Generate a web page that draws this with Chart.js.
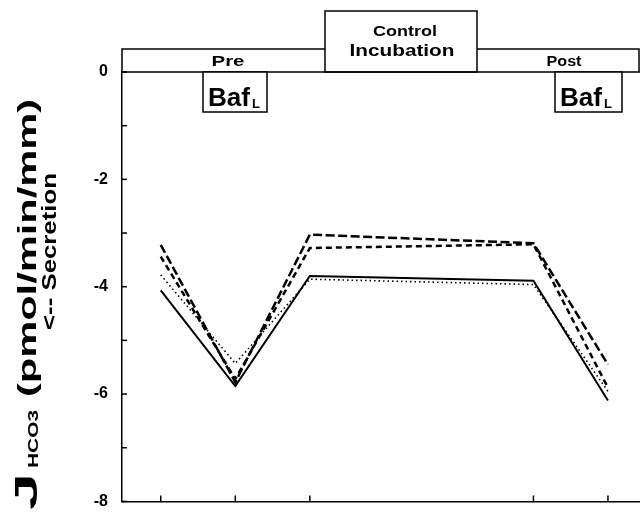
<!DOCTYPE html>
<html>
<head>
<meta charset="utf-8">
<script src="https://cdn.jsdelivr.net/npm/chart.js@4"></script>
<style>
  body { margin: 0; background: #fff; }
  canvas { display: block; }
</style>
</head>
<body>
<canvas id="myChart" width="640" height="525"></canvas>
<script>
// time points (x) and the four traces
var xValues = [1, 2, 3, 6, 7];
var xTicks = [1, 2, 3, 6, 7];
var solidSeries = [-4.07, -5.85, -3.80, -3.89, -6.12];
var dottedSeries = [-3.78, -5.43, -3.86, -3.96, -5.95];
var dashedLong = [-3.22, -5.78, -3.03, -3.19, -5.45];
var dashedShort = [-3.44, -5.72, -3.28, -3.21, -5.88];
var yTickLabels = [0, -2, -4, -6, -8];

var FONT = '"Liberation Sans", Arial, sans-serif';

function toPoints(values) {
    return values.map(function (v, i) { return { x: xValues[i], y: v }; });
}

function stretchText(ctx, text, x, y, size, width, align) {
    ctx.font = 'bold ' + size + 'px ' + FONT;
    var w = ctx.measureText(text).width;
    var sx = width ? width / w : 1;
    ctx.save();
    ctx.translate(x, y);
    ctx.scale(sx, 1);
    ctx.textAlign = align || 'left';
    ctx.textBaseline = 'alphabetic';
    ctx.fillText(text, 0, 0);
    ctx.restore();
}

var decorations = {
    id: 'decorations',
    afterDraw: function (chart) {
        var ctx = chart.ctx;
        var xs = chart.scales.x, ys = chart.scales.y;
        var area = chart.chartArea;
        ctx.save();
        ctx.strokeStyle = '#000';
        ctx.fillStyle = '#000';
        ctx.lineWidth = 1.5;

        // inward ticks on y axis
        for (var v = -8; v <= 0; v++) {
            var py = ys.getPixelForValue(v);
            ctx.beginPath();
            ctx.moveTo(area.left, py);
            ctx.lineTo(area.left + 5, py);
            ctx.stroke();
        }
        // inward ticks on x axis
        xTicks.forEach(function (t) {
            var px = xs.getPixelForValue(t);
            ctx.beginPath();
            ctx.moveTo(px, area.bottom);
            ctx.lineTo(px, area.bottom - 6);
            ctx.stroke();
        });

        // top banner
        var top = area.top;
        ctx.beginPath();
        ctx.moveTo(area.left, top);
        ctx.lineTo(area.left, 49);
        ctx.lineTo(325, 49);
        ctx.moveTo(477, 49);
        ctx.lineTo(area.right - 1, 49);
        ctx.lineTo(area.right - 1, top);
        ctx.moveTo(area.left, top);
        ctx.lineTo(area.right, top);
        ctx.stroke();
        ctx.strokeRect(325, 11, 152, top - 11);

        stretchText(ctx, 'Control', 405, 36, 15, 64, 'center');
        stretchText(ctx, 'Incubation', 402, 56, 17, 105, 'center');
        stretchText(ctx, 'Pre', 228, 66, 15, 33, 'center');
        stretchText(ctx, 'Post', 564, 66, 14, 35, 'center');

        // Baf boxes
        [[203, 64], [555, 67]].forEach(function (b) {
            ctx.fillStyle = '#fff';
            ctx.fillRect(b[0], top, b[1], 40);
            ctx.strokeRect(b[0], top, b[1], 40);
            ctx.fillStyle = '#000';
            stretchText(ctx, 'Baf', b[0] + 5, top + 34, 25, 42);
            stretchText(ctx, 'L', b[0] + 49, top + 36, 13, 8);
        });

        // y axis title, rotated
        ctx.save();
        ctx.translate(37, 510);
        ctx.rotate(-Math.PI / 2);
        stretchText(ctx, 'J', 0, 0, 31, 37);
        stretchText(ctx, 'HCO3', 42, 1, 14, 58);
        stretchText(ctx, '(pmol/min/mm)', 113, -1, 25, 298);
        ctx.restore();

        ctx.save();
        ctx.translate(56, 330);
        ctx.rotate(-Math.PI / 2);
        stretchText(ctx, '<-- Secretion', 0, 0, 20, 157);
        ctx.restore();

        ctx.restore();
    }
};

var ctx = document.getElementById('myChart').getContext('2d');
var myChart = new Chart(ctx, {
    type: 'line',
    data: {
        datasets: [{
            label: 'solid',
            data: toPoints(solidSeries),
            borderColor: '#000',
            borderWidth: 2
        }, {
            label: 'dotted',
            data: toPoints(dottedSeries),
            borderColor: '#000',
            borderWidth: 1.6,
            borderDash: [1.5, 3]
        }, {
            label: 'long dash',
            data: toPoints(dashedLong),
            borderColor: '#000',
            borderWidth: 2.5,
            borderDash: [9, 3.5]
        }, {
            label: 'short dash',
            data: toPoints(dashedShort),
            borderColor: '#000',
            borderWidth: 2.5,
            borderDash: [6, 4]
        }]
    },
    options: {
        responsive: false,
        animation: false,
        layout: { padding: { top: 72, left: 0, right: 0, bottom: 0 } },
        elements: {
            point: { radius: 0 },
            line: { tension: 0, fill: false }
        },
        plugins: {
            legend: { display: false },
            tooltip: { enabled: false }
        },
        scales: {
            x: {
                type: 'linear',
                min: 0.48,
                max: 7.43,
                afterBuildTicks: function (scale) {
                    scale.ticks = xTicks.map(function (t) { return { value: t }; });
                },
                afterFit: function (scale) { scale.height = 11; },
                ticks: { display: false },
                grid: { display: false, drawTicks: false },
                border: { display: true, color: '#000', width: 1.5 }
            },
            y: {
                min: -8,
                max: 0,
                afterBuildTicks: function (scale) {
                    scale.ticks = yTickLabels.map(function (t) { return { value: t }; });
                },
                afterFit: function (scale) { scale.width = 122; },
                ticks: {
                    color: '#000',
                    padding: 14,
                    font: { family: FONT, size: 16, weight: 'bold' }
                },
                grid: { display: false, drawTicks: false },
                border: { display: true, color: '#000', width: 1.5 }
            }
        }
    },
    plugins: [decorations]
});
</script>
</body>
</html>
